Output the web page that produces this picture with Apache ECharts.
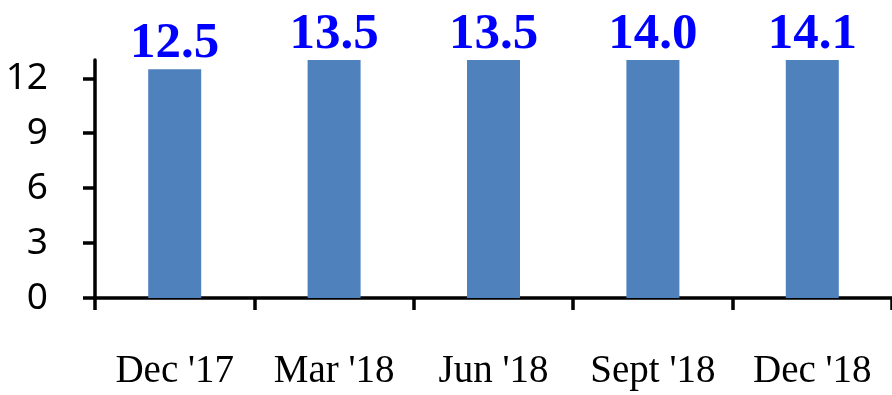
<!DOCTYPE html>
<html>
<head>
<meta charset="utf-8">
<style>html,body{margin:0;padding:0;background:#fff;}#c{width:892px;height:395px;}</style>
<script src="https://cdn.jsdelivr.net/npm/echarts@6/dist/echarts.min.js"></script>
</head>
<body>
<div id="c"></div>
<script>
const categories = ["Dec '17", "Mar '18", "Jun '18", "Sept '18", "Dec '18"];
const values = [12.5, 13.5, 13.5, 14.0, 14.1];
const yTicks = [0, 3, 6, 9, 12];

const chart = echarts.init(document.getElementById('c'), null, {renderer: 'canvas'});
chart.setOption({
  animation: false,
  grid: {left: 95, right: 0, top: 60, bottom: 97, containLabel: false},
  xAxis: {
    type: 'category',
    data: categories,
    boundaryGap: true,
    axisLine: {show: true, lineStyle: {color: '#000', width: 3.5}},
    axisTick: {show: true, inside: false, length: 12, alignWithLabel: false, lineStyle: {color: '#000', width: 3.5}},
    axisLabel: {margin: 54, color: '#000', fontFamily: 'Liberation Serif', fontSize: 39, interval: 0}
  },
  yAxis: {
    type: 'value',
    min: 0, max: 13, interval: 3,
    splitLine: {show: false},
    axisLine: {show: true, lineStyle: {color: '#000', width: 3.5}},
    axisTick: {show: true, length: 12, customValues: yTicks, lineStyle: {color: '#000', width: 3.5}},
    axisLabel: {margin: 47, color: '#000', fontFamily: 'Noto Sans', fontSize: 37, customValues: yTicks}
  },
  series: [{
    type: 'bar',
    data: values,
    barWidth: 53,
    clip: true,
    itemStyle: {color: '#4F81BD'},
    label: {
      show: true, position: 'top', distance: 0,
      color: '#0000FF', fontFamily: 'Liberation Serif', fontWeight: 'bold', fontSize: 51,
      formatter: p => p.value.toFixed(1)
    }
  }]
});
</script>
</body>
</html>
